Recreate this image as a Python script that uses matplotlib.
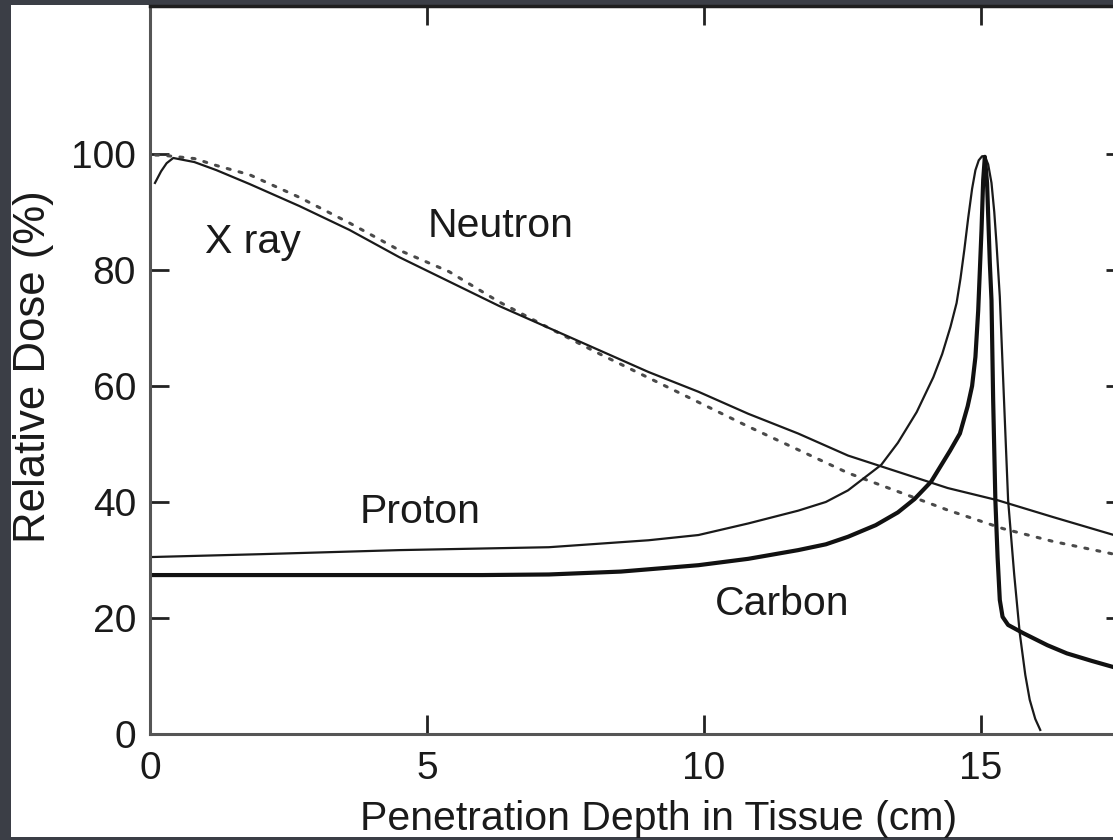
import matplotlib
matplotlib.use("Agg")
import matplotlib.pyplot as plt
from matplotlib.patches import Rectangle

plt.rcParams['font.family'] = ['Liberation Sans', 'DejaVu Sans']

# depth (cm) / relative dose (%)
xray_depth = [0.1, 0.2, 0.3, 0.4, 0.8, 1.2, 1.8, 2.7, 3.6, 4.5, 5.4, 6.3, 7.2,
              8.1, 9.0, 9.9, 10.8, 11.7, 12.6, 13.5, 14.4, 15.4, 16.3, 17.4, 17.7]
xray_dose = [99.8, 99.8, 99.7, 99.6, 99.2, 98.0, 96.4, 92.5, 88.1, 83.4, 79.7,
             74.5, 70.0, 65.6, 61.4, 57.2, 53.0, 49.0, 45.0, 41.8, 38.6, 35.4,
             33.2, 31.0, 30.4]

neutron_depth = [0.09, 0.2, 0.3, 0.42, 0.8, 1.2, 1.8, 2.7, 3.6, 4.5, 5.4, 6.3,
                 7.2, 8.1, 9.0, 9.9, 10.8, 11.7, 12.6, 13.5, 14.4, 15.3, 16.3,
                 17.4, 17.7]
neutron_dose = [95.0, 97.0, 98.4, 99.3, 98.6, 97.2, 94.8, 91.0, 86.9, 82.2, 78.0,
                73.8, 70.0, 66.2, 62.4, 59.0, 55.2, 51.8, 48.0, 45.2, 42.4, 40.3,
                37.4, 34.3, 33.5]

proton_depth = [0, 2.0, 4.5, 7.2, 9.0, 9.9, 10.8, 11.7, 12.2, 12.6, 13.2, 13.5,
                13.84, 14.14, 14.3, 14.45, 14.56, 14.63, 14.70, 14.77, 14.84,
                14.90, 14.96, 15.02, 15.07, 15.13, 15.19, 15.24, 15.28, 15.34,
                15.40, 15.49, 15.60, 15.70, 15.80, 15.88, 15.98, 16.07]
proton_dose = [30.5, 31.0, 31.7, 32.2, 33.4, 34.3, 36.3, 38.5, 40.0, 42.0, 46.4,
               50.2, 55.5, 61.5, 65.5, 70.2, 74.3, 78.5, 83.5, 89.0, 94.0, 97.2,
               98.9, 99.6, 99.6, 98.2, 95.0, 90.0, 84.6, 75.4, 61.3, 40.3, 27.5,
               17.4, 10.2, 5.9, 2.6, 0.7]

carbon_depth = [0, 3, 6, 7.2, 8.5, 9.9, 10.8, 11.7, 12.2, 12.6, 13.1, 13.5, 13.8,
                14.1, 14.44, 14.62, 14.76, 14.84, 14.90, 14.95, 15.01, 15.04,
                15.07, 15.11, 15.16, 15.19, 15.22, 15.26, 15.30, 15.34, 15.39,
                15.49, 15.76, 16.2, 16.55, 17.0, 17.7]
carbon_dose = [27.4, 27.4, 27.4, 27.5, 28.0, 29.1, 30.2, 31.7, 32.7, 34.0, 36.0,
               38.2, 40.5, 43.5, 48.8, 51.8, 56.5, 60.0, 65.0, 73.0, 86.9, 95.5,
               99.5, 95.0, 81.2, 74.8, 57.6, 40.3, 30.5, 23.1, 20.2, 18.8, 17.4,
               15.3, 13.9, 12.6, 10.7]

labels = [("X ray", 0.99, 82.9), ("Neutron", 5.02, 85.7),
          ("Proton", 3.79, 36.4), ("Carbon", 10.2, 20.5)]

W, H = 1113, 840
fig = plt.figure(figsize=(W / 100, H / 100), dpi=100, facecolor='#3b3e46')
fig.patches.append(Rectangle((11 / W, 3 / H), 1 - 11 / W, 1 - 8 / H,
                             transform=fig.transFigure, facecolor='white',
                             edgecolor='none', zorder=-5))

# right spine sits just past the figure edge
ax = fig.add_axes([150 / W, 106 / H, 975 / W, 728 / H])
ax.set_facecolor('white')

ax.plot(xray_depth, xray_dose, color='#4a4a4a', lw=2.2, ls=(0, (1.0, 3.0)),
        dash_capstyle='round')
ax.plot(neutron_depth, neutron_dose, color='#1a1a1a', lw=1.6)
ax.plot(proton_depth, proton_dose, color='#1a1a1a', lw=1.6)
ax.plot(carbon_depth, carbon_dose, color='#111111', lw=3.0)

for text, x, y in labels:
    ax.text(x, y, text, fontsize=29.5, ha='left', va='baseline', color='#1a1a1a')

ax.set_xlim(0, 17.6)
ax.set_ylim(0, 125.5)
ax.set_xticks([0, 5, 10, 15])
ax.set_yticks([0, 20, 40, 60, 80, 100])

ax.tick_params(direction='in', top=True, right=True, length=14, width=2,
               color='#222222', labelsize=28, labelcolor='#1a1a1a')
ax.tick_params(axis='x', pad=12)
ax.tick_params(axis='y', pad=10)

for side in ['left', 'bottom']:
    ax.spines[side].set_color('#555555')
    ax.spines[side].set_linewidth(2.2)
ax.spines['top'].set_color('#1e1e1e')
ax.spines['top'].set_linewidth(2.5)
ax.spines['right'].set_color('#555555')

ax.set_xlabel("Penetration Depth in Tissue (cm)", fontsize=29.5, va='baseline',
              color='#1a1a1a')
ax.xaxis.set_label_coords((659 - 150) / 975, -96 / 728)
ax.set_ylabel("Relative Dose (%)", fontsize=31.5, va='baseline', color='#1a1a1a')
ax.yaxis.set_label_coords((45 - 150) / 975, (734 - 367) / 728)

plt.savefig("out.png", dpi=100, facecolor=fig.get_facecolor())
